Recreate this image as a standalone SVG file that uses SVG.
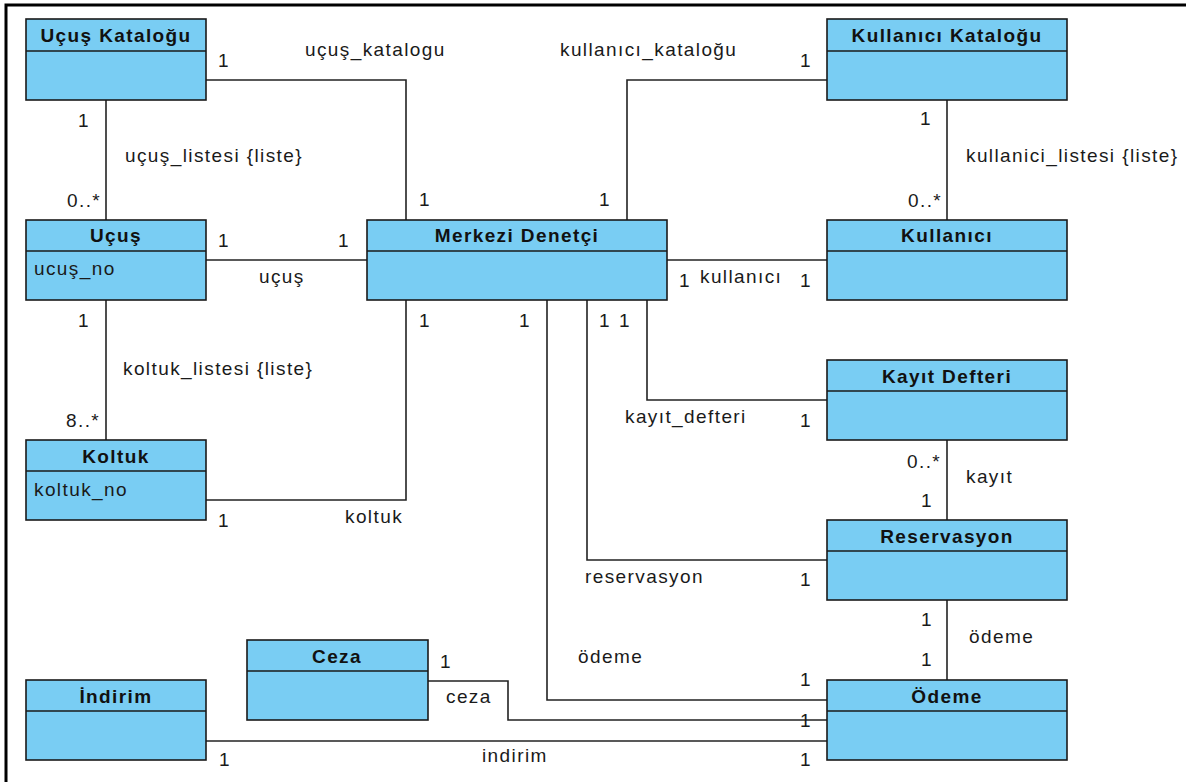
<svg xmlns="http://www.w3.org/2000/svg" width="1186" height="782" viewBox="0 0 1186 782">
  <style>
    .box { fill: #79CDF3; stroke: #1a1a1a; stroke-width: 1.6; }
    .div { stroke: #1a1a1a; stroke-width: 1.6; }
    .title { font-family: "Liberation Sans", Arial, sans-serif; font-size: 19px; font-weight: bold; letter-spacing: 1.4px; text-anchor: middle; fill: #111; }
    .lbl { font-family: "Liberation Sans", Arial, sans-serif; font-size: 19px; letter-spacing: 1.4px; fill: #1a1a1a; }
    .conn { fill: none; stroke: #222; stroke-width: 1.6; }
    .frame { fill: none; stroke: #000; stroke-width: 3; }
  </style>

  <rect x="0" y="0" width="1186" height="782" fill="#ffffff"/>
  <!-- frame -->
  <path class="frame" d="M6,782 V5 H1186"/>

  <!-- associations -->
  <g id="connectors">
    <path class="conn" d="M206,80 H406 V220"/>
    <path class="conn" d="M827,80 H627 V220"/>
    <path class="conn" d="M106,100 V220"/>
    <path class="conn" d="M947,100 V220"/>
    <path class="conn" d="M206,260 H367"/>
    <path class="conn" d="M667,260 H827"/>
    <path class="conn" d="M106,300 V440"/>
    <path class="conn" d="M206,500 H406 V300"/>
    <path class="conn" d="M547,300 V700 H827"/>
    <path class="conn" d="M587,300 V560 H827"/>
    <path class="conn" d="M647,300 V400 H827"/>
    <path class="conn" d="M947,440 V520"/>
    <path class="conn" d="M947,600 V680"/>
    <path class="conn" d="M428,681 H508 V720 H827"/>
    <path class="conn" d="M206,741 H827"/>

    <!-- role names and multiplicities -->
    <text class="lbl" x="218" y="67">1</text>
    <text class="lbl" x="305" y="56">uçuş_katalogu</text>
    <text class="lbl" x="419" y="206">1</text>

    <text class="lbl" x="560" y="56">kullanıcı_kataloğu</text>
    <text class="lbl" x="800" y="67">1</text>
    <text class="lbl" x="599" y="206">1</text>

    <text class="lbl" x="78" y="127">1</text>
    <text class="lbl" x="125" y="162">uçuş_listesi {liste}</text>
    <text class="lbl" x="67" y="207">0..*</text>

    <text class="lbl" x="920" y="125">1</text>
    <text class="lbl" x="966" y="162">kullanici_listesi {liste}</text>
    <text class="lbl" x="908" y="207">0..*</text>

    <text class="lbl" x="218" y="247">1</text>
    <text class="lbl" x="338" y="247">1</text>
    <text class="lbl" x="259" y="283">uçuş</text>

    <text class="lbl" x="679" y="287">1</text>
    <text class="lbl" x="700" y="283">kullanıcı</text>
    <text class="lbl" x="800" y="287">1</text>

    <text class="lbl" x="78" y="327">1</text>
    <text class="lbl" x="123" y="375">koltuk_listesi {liste}</text>
    <text class="lbl" x="66" y="427">8..*</text>

    <text class="lbl" x="218" y="527">1</text>
    <text class="lbl" x="345" y="523">koltuk</text>
    <text class="lbl" x="419" y="327">1</text>

    <text class="lbl" x="519" y="327">1</text>
    <text class="lbl" x="578" y="663">ödeme</text>
    <text class="lbl" x="800" y="686">1</text>

    <text class="lbl" x="599" y="327">1</text>
    <text class="lbl" x="585" y="583">reservasyon</text>
    <text class="lbl" x="800" y="586">1</text>

    <text class="lbl" x="619" y="327">1</text>
    <text class="lbl" x="625" y="423">kayıt_defteri</text>
    <text class="lbl" x="800" y="427">1</text>

    <text class="lbl" x="907" y="468">0..*</text>
    <text class="lbl" x="966" y="483">kayıt</text>
    <text class="lbl" x="921" y="507">1</text>

    <text class="lbl" x="921" y="626">1</text>
    <text class="lbl" x="969" y="643">ödeme</text>
    <text class="lbl" x="921" y="666">1</text>

    <text class="lbl" x="440" y="668">1</text>
    <text class="lbl" x="446" y="703">ceza</text>
    <text class="lbl" x="800" y="727">1</text>

    <text class="lbl" x="219" y="766">1</text>
    <text class="lbl" x="482" y="762">indirim</text>
    <text class="lbl" x="800" y="766">1</text>
  </g>

  <!-- classes -->
  <g id="ucus-katalogu">
    <rect class="box" x="26" y="19" width="180" height="81"/>
    <line class="div" x1="26" y1="51" x2="206" y2="51"/>
    <text class="title" x="116" y="42">Uçuş Kataloğu</text>
  </g>

  <g id="kullanici-katalogu">
    <rect class="box" x="827" y="19" width="240" height="81"/>
    <line class="div" x1="827" y1="51" x2="1067" y2="51"/>
    <text class="title" x="947" y="42">Kullanıcı Kataloğu</text>
  </g>

  <g id="ucus">
    <rect class="box" x="26" y="220" width="180" height="80"/>
    <line class="div" x1="26" y1="251" x2="206" y2="251"/>
    <text class="title" x="116" y="242">Uçuş</text>
    <text class="lbl" x="34" y="275">ucuş_no</text>
  </g>

  <g id="merkezi-denetci">
    <rect class="box" x="367" y="220" width="300" height="80"/>
    <line class="div" x1="367" y1="251" x2="667" y2="251"/>
    <text class="title" x="517" y="242">Merkezi Denetçi</text>
  </g>

  <g id="kullanici">
    <rect class="box" x="827" y="220" width="240" height="80"/>
    <line class="div" x1="827" y1="251" x2="1067" y2="251"/>
    <text class="title" x="947" y="242">Kullanıcı</text>
  </g>

  <g id="kayit-defteri">
    <rect class="box" x="827" y="360" width="240" height="80"/>
    <line class="div" x1="827" y1="391" x2="1067" y2="391"/>
    <text class="title" x="947" y="383">Kayıt Defteri</text>
  </g>

  <g id="koltuk">
    <rect class="box" x="26" y="440" width="180" height="80"/>
    <line class="div" x1="26" y1="471" x2="206" y2="471"/>
    <text class="title" x="116" y="463">Koltuk</text>
    <text class="lbl" x="34" y="496">koltuk_no</text>
  </g>

  <g id="reservasyon">
    <rect class="box" x="827" y="520" width="240" height="80"/>
    <line class="div" x1="827" y1="551" x2="1067" y2="551"/>
    <text class="title" x="947" y="543">Reservasyon</text>
  </g>

  <g id="ceza">
    <rect class="box" x="247" y="640" width="181" height="80"/>
    <line class="div" x1="247" y1="671" x2="428" y2="671"/>
    <text class="title" x="337" y="663">Ceza</text>
  </g>

  <g id="indirim">
    <rect class="box" x="26" y="680" width="180" height="80"/>
    <line class="div" x1="26" y1="711" x2="206" y2="711"/>
    <text class="title" x="116" y="703">İndirim</text>
  </g>

  <g id="odeme">
    <rect class="box" x="827" y="680" width="240" height="80"/>
    <line class="div" x1="827" y1="711" x2="1067" y2="711"/>
    <text class="title" x="947" y="703">Ödeme</text>
  </g>
</svg>
